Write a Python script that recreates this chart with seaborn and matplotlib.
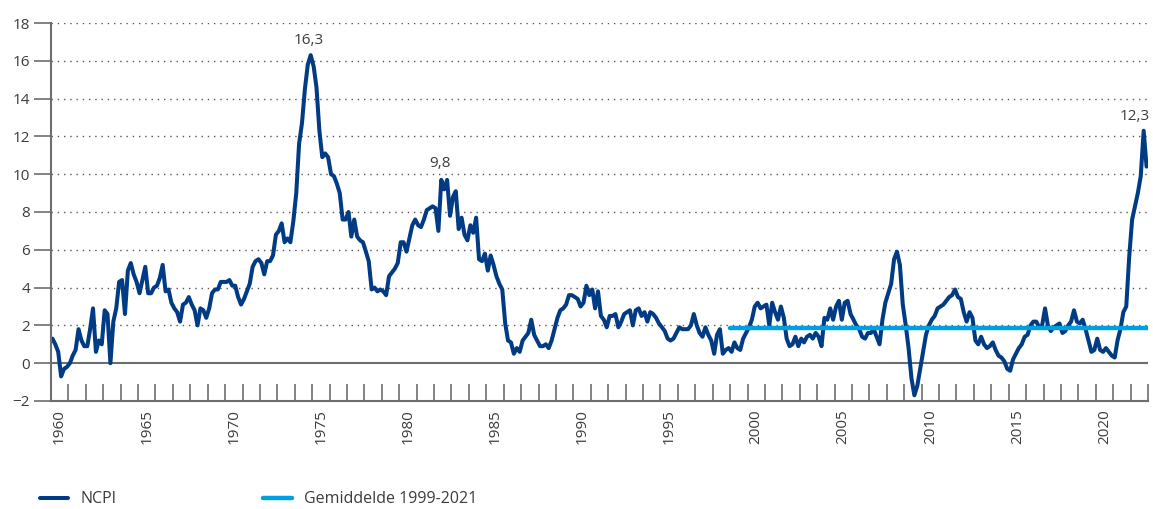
import numpy as np
import pandas as pd
import matplotlib
matplotlib.use("Agg")
import matplotlib.pyplot as plt
import matplotlib.dates as mdates
import seaborn as sns

## NCPI, year-on-year change in %, bi-monthly readings (Feb, Apr, Jun, Aug, Oct, Dec)
ncpi = [
    1.3, 1.0, 0.6, -0.7, -0.3, -0.2,   # 1960
    0.0, 0.4, 0.7, 1.8, 1.2, 0.9,      # 1961
    0.9, 1.8, 2.9, 0.6, 1.2, 1.0,      # 1962
    2.8, 2.6, 0.0, 2.2, 2.9, 4.3,      # 1963
    4.4, 2.6, 4.9, 5.3, 4.7, 4.3,      # 1964
    3.7, 4.4, 5.1, 3.7, 3.7, 4.0,      # 1965
    4.1, 4.5, 5.2, 3.8, 3.9, 3.2,      # 1966
    2.9, 2.7, 2.2, 3.1, 3.2, 3.5,      # 1967
    3.1, 2.8, 2.0, 2.9, 2.8, 2.4,      # 1968
    2.9, 3.7, 3.9, 3.9, 4.3, 4.3,      # 1969
    4.3, 4.4, 4.1, 4.1, 3.5, 3.1,      # 1970
    3.4, 3.8, 4.2, 5.1, 5.4, 5.5,      # 1971
    5.3, 4.7, 5.4, 5.4, 5.7, 6.8,      # 1972
    7.0, 7.4, 6.4, 6.6, 6.4, 7.5,      # 1973
    9.0, 11.6, 12.7, 14.5, 15.8, 16.3, # 1974
    15.7, 14.6, 12.3, 10.9, 11.1, 10.9,  # 1975
    10.0, 9.9, 9.5, 9.0, 7.6, 7.6,     # 1976
    8.0, 6.7, 7.6, 6.7, 6.5, 6.4,      # 1977
    5.9, 5.4, 3.9, 4.0, 3.8, 3.9,      # 1978
    3.8, 3.6, 4.6, 4.8, 5.0, 5.3,      # 1979
    6.4, 6.4, 5.9, 6.6, 7.3, 7.6,      # 1980
    7.3, 7.2, 7.6, 8.1, 8.2, 8.3,      # 1981
    8.2, 7.0, 9.7, 9.2, 9.7, 7.8,      # 1982
    8.8, 9.1, 7.1, 7.7, 6.8, 6.5,      # 1983
    7.3, 6.9, 7.7, 5.5, 5.4, 5.8,      # 1984
    4.9, 5.7, 5.2, 4.6, 4.2, 3.9,      # 1985
    2.1, 1.2, 1.1, 0.5, 0.8, 0.6,      # 1986
    1.2, 1.4, 1.6, 2.3, 1.5, 1.2,      # 1987
    0.9, 0.9, 1.0, 0.8, 1.2, 1.8,      # 1988
    2.4, 2.8, 2.9, 3.1, 3.6, 3.6,      # 1989
    3.5, 3.4, 3.0, 3.2, 4.1, 3.6,      # 1990
    3.9, 2.9, 3.8, 2.5, 2.3, 1.9,      # 1991
    2.5, 2.5, 2.6, 1.9, 2.2, 2.6,      # 1992
    2.7, 2.8, 2.0, 2.8, 2.9, 2.5,      # 1993
    2.7, 2.2, 2.7, 2.6, 2.4, 2.1,      # 1994
    1.9, 1.7, 1.3, 1.2, 1.3, 1.6,      # 1995
    1.9, 1.8, 1.8, 1.8, 2.0, 2.6,      # 1996
    2.0, 1.6, 1.4, 1.9, 1.5, 1.2,      # 1997
    0.5, 1.5, 1.8, 0.5, 0.7, 0.8,      # 1998
    0.6, 1.1, 0.8, 0.7, 1.3, 1.6,      # 1999
    1.9, 2.3, 3.0, 3.2, 2.9, 3.0,      # 2000
    3.1, 2.0, 3.2, 2.7, 2.3, 3.0,      # 2001
    2.4, 1.3, 0.9, 1.0, 1.4, 0.9,      # 2002
    1.3, 1.1, 1.4, 1.5, 1.3, 1.6,      # 2003
    1.4, 0.9, 2.4, 2.3, 2.9, 2.3,      # 2004
    3.0, 3.3, 2.3, 3.2, 3.3, 2.6,      # 2005
    2.3, 2.0, 1.8, 1.4, 1.3, 1.6,      # 2006
    1.6, 1.8, 1.4, 1.0, 2.3, 3.2,      # 2007
    3.7, 4.2, 5.5, 5.9, 5.2, 3.1,      # 2008
    2.0, 0.8, -0.8, -1.7, -1.2, -0.3,  # 2009
    0.6, 1.5, 2.0, 2.3, 2.5, 2.9,      # 2010
    3.0, 3.1, 3.3, 3.5, 3.6, 3.9,      # 2011
    3.5, 3.4, 2.7, 2.2, 2.7, 2.4,      # 2012
    1.2, 1.0, 1.4, 1.0, 0.8, 0.9,      # 2013
    1.1, 0.7, 0.4, 0.3, 0.1, -0.3,     # 2014
    -0.4, 0.2, 0.5, 0.8, 1.0, 1.4,     # 2015
    1.5, 2.0, 2.2, 2.2, 1.9, 2.0,      # 2016
    2.9, 2.0, 1.7, 1.9, 2.0, 2.1,      # 2017
    1.6, 1.7, 2.0, 2.2, 2.8, 2.2,      # 2018
    2.1, 2.3, 1.8, 1.2, 0.6, 0.7,      # 2019
    1.3, 0.7, 0.6, 0.8, 0.6, 0.4,      # 2020
    0.3, 1.2, 1.8, 2.7, 3.0, 5.6,      # 2021
    7.6, 8.3, 9.0, 9.9, 12.3, 10.4,    # 2022
]
ncpi_start = "1960-02-01"

avg_label = "Gemiddelde 1999-2021"
avg_value = 1.85
avg_dates = ["1999-01-01", "2023-01-01"]

peak_labels = ["16,3", "9,8", "12,3"]
peak_dates = ["1974-10-15", "1982-05-01", "2022-04-01"]
peak_values = [16.3, 9.8, 12.3]

y_ticks = list(range(-2, 19, 2))
label_years = list(range(1960, 2021, 5))

navy = "#003b84"
light_blue = "#009fdf"
grey = "#6e6e6e"
text_col = "#3c3c3c"

df = pd.DataFrame({
    "date": pd.date_range(ncpi_start, periods=len(ncpi), freq="2MS"),
    "value": ncpi,
})
avg_df = pd.DataFrame({"date": pd.to_datetime(avg_dates), "value": [avg_value] * len(avg_dates)})

sns.set_style("white")
plt.rcParams["font.family"] = ["Open Sans", "DejaVu Sans"]

fig = plt.figure(figsize=(11.53, 5.09), dpi=100)
ax = fig.add_axes([0.0442, 0.2122, 0.9515, 0.7426])

sns.lineplot(data=df, x="date", y="value", ax=ax, color=navy, lw=2.9,
             label="NCPI", legend=False)
sns.lineplot(data=avg_df, x="date", y="value", ax=ax, color=light_blue, lw=3.2,
             label=avg_label, legend=False)

ax.set_xlim(pd.Timestamp("1960-01-01"), pd.Timestamp("2023-01-01"))
ax.set_ylim(-2, 18)
ax.set_xlabel("")
ax.set_ylabel("")

# grid and zero line
for y in y_ticks:
    if y > 0:
        ax.axhline(y, color="#555555", lw=1.0, ls=(0, (1, 3.5)), zorder=0)
ax.axhline(0, color=grey, lw=1.5, zorder=1)

ax.set_yticks(y_ticks)
ax.set_yticklabels([str(t).replace("-", "\u2212") for t in y_ticks])
ax.tick_params(axis="y", direction="out", length=12, width=1.2, color=grey,
               labelsize=11, labelcolor=text_col, pad=3, left=True)

# yearly ticks at year boundaries, labels mid-year every 5 years
ax.xaxis.set_minor_locator(mdates.YearLocator(1))
ax.set_xticks([pd.Timestamp(f"{y}-07-01") for y in label_years])
ax.set_xticklabels([str(y) for y in label_years], rotation=90)
ax.tick_params(axis="x", which="major", length=0, labelsize=11,
               labelcolor=text_col, pad=6)
ax.tick_params(axis="x", which="minor", direction="in", length=12, width=1.2,
               color=grey, bottom=True)

for s in ["top", "right"]:
    ax.spines[s].set_visible(False)
for s in ["left", "bottom"]:
    ax.spines[s].set_color(grey)
    ax.spines[s].set_linewidth(1.5)

for lab, d, v in zip(peak_labels, peak_dates, peak_values):
    ax.annotate(lab, (pd.Timestamp(d), v), xytext=(0, 5), textcoords="offset points",
                ha="center", va="bottom", fontsize=11, color=text_col)

handles, labels = ax.get_legend_handles_labels()
order = [labels.index("NCPI"), labels.index(avg_label)]
fig.legend([handles[i] for i in order], [labels[i] for i in order],
           loc="lower left", bbox_to_anchor=(0.022, -0.025), ncol=2, frameon=False,
           fontsize=11.5, handlelength=1.8, handletextpad=0.75, columnspacing=9.2,
           labelcolor=text_col)

fig.savefig("out.png", dpi=100)
